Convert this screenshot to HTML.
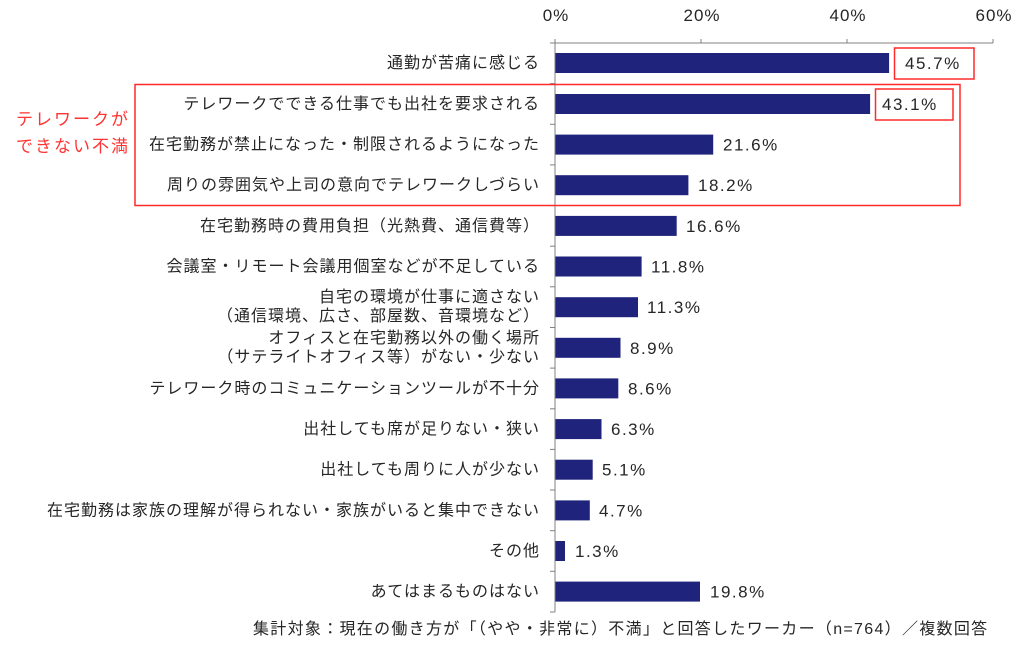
<!DOCTYPE html>
<html><head><meta charset="utf-8"><style>
html,body{margin:0;padding:0;background:#fff;}
svg{display:block;}
text{font-family:"Liberation Sans","Noto Sans CJK JP",sans-serif;fill:#262626;}
</style></head><body>
<svg width="1024" height="648" viewBox="0 0 1024 648" xmlns="http://www.w3.org/2000/svg">
<g font-size="17" text-anchor="middle" letter-spacing="1">
<text x="556" y="21">0%</text><text x="702" y="21">20%</text><text x="848" y="21">40%</text><text x="994" y="21">60%</text>
</g>
<g stroke="#808080" stroke-width="1" fill="none">
<line x1="555" y1="43" x2="993" y2="43"/>
<line x1="555" y1="39" x2="555" y2="43"/><line x1="701" y1="39" x2="701" y2="43"/><line x1="847" y1="39" x2="847" y2="43"/><line x1="993" y1="39" x2="993" y2="43"/>
<line x1="555" y1="43" x2="555" y2="612"/>
<line x1="550" y1="43" x2="555" y2="43"/><line x1="550" y1="83.6" x2="555" y2="83.6"/><line x1="550" y1="124.3" x2="555" y2="124.3"/><line x1="550" y1="164.9" x2="555" y2="164.9"/><line x1="550" y1="205.6" x2="555" y2="205.6"/><line x1="550" y1="246.2" x2="555" y2="246.2"/><line x1="550" y1="286.8" x2="555" y2="286.8"/><line x1="550" y1="327.5" x2="555" y2="327.5"/><line x1="550" y1="368.1" x2="555" y2="368.1"/><line x1="550" y1="408.8" x2="555" y2="408.8"/><line x1="550" y1="449.4" x2="555" y2="449.4"/><line x1="550" y1="490" x2="555" y2="490"/><line x1="550" y1="530.7" x2="555" y2="530.7"/><line x1="550" y1="571.3" x2="555" y2="571.3"/><line x1="550" y1="612" x2="555" y2="612"/>
</g>
<g fill="#1f237b">
<rect x="555.5" y="53" width="333.6" height="20"/>
<rect x="555.5" y="94" width="314.6" height="20"/>
<rect x="555.5" y="134.6" width="157.7" height="20"/>
<rect x="555.5" y="175.2" width="132.9" height="20"/>
<rect x="555.5" y="215.9" width="121.2" height="20"/>
<rect x="555.5" y="256.5" width="86.1" height="20"/>
<rect x="555.5" y="297.2" width="82.5" height="20"/>
<rect x="555.5" y="337.8" width="65" height="20"/>
<rect x="555.5" y="378.4" width="62.8" height="20"/>
<rect x="555.5" y="419.1" width="46" height="20"/>
<rect x="555.5" y="459.7" width="37.2" height="20"/>
<rect x="555.5" y="500.4" width="34.3" height="20"/>
<rect x="555.5" y="541" width="9.5" height="20"/>
<rect x="555.5" y="581.6" width="144.5" height="20"/>
</g>
<g font-size="17" letter-spacing="1.5">
<text x="905" y="69">45.7%</text>
<text x="882" y="110">43.1%</text>
<text x="723" y="150.5">21.6%</text>
<text x="698" y="191">18.2%</text>
<text x="686" y="232">16.6%</text>
<text x="651" y="272.5">11.8%</text>
<text x="647" y="313">11.3%</text>
<text x="630" y="354">8.9%</text>
<text x="628" y="394.5">8.6%</text>
<text x="611" y="435">6.3%</text>
<text x="602" y="475.5">5.1%</text>
<text x="599" y="516.5">4.7%</text>
<text x="575" y="557">1.3%</text>
<text x="710" y="597.5">19.8%</text>
</g>
<g font-size="16" text-anchor="end" letter-spacing="1">
<text x="540" y="68">通勤が苦痛に感じる</text>
<text x="540" y="109">テレワークでできる仕事でも出社を要求される</text>
<text x="540" y="149.5">在宅勤務が禁止になった・制限されるようになった</text>
<text x="540" y="190">周りの雰囲気や上司の意向でテレワークしづらい</text>
<text x="540" y="231">在宅勤務時の費用負担（光熱費、通信費等）</text>
<text x="540" y="271.5">会議室・リモート会議用個室などが不足している</text>
<text x="540" y="302">自宅の環境が仕事に適さない</text>
<text x="540" y="321">（通信環境、広さ、部屋数、音環境など）</text>
<text x="540" y="343">オフィスと在宅勤務以外の働く場所</text>
<text x="540" y="362">（サテライトオフィス等）がない・少ない</text>
<text x="540" y="393.5">テレワーク時のコミュニケーションツールが不十分</text>
<text x="540" y="434">出社しても席が足りない・狭い</text>
<text x="540" y="474.5">出社しても周りに人が少ない</text>
<text x="540" y="515.5">在宅勤務は家族の理解が得られない・家族がいると集中できない</text>
<text x="540" y="556">その他</text>
<text x="540" y="596.5">あてはまるものはない</text>
</g>
<g font-size="17" letter-spacing="2">
<text x="16" y="125" style="fill:#ff3333">テレワークが</text>
<text x="16" y="152" style="fill:#ff3333">できない不満</text>
</g>
<g fill="none" stroke="#ff2a2a" stroke-width="1.5">
<rect x="135" y="84.5" width="825" height="121"/>
<rect x="894.5" y="48" width="79.5" height="31"/>
<rect x="875.5" y="89" width="77.5" height="31"/>
</g>
<text x="253" y="634" font-size="16" letter-spacing="1.3">集計対象：現在の働き方が「（やや・非常に）不満」と回答したワーカー（n=764）／複数回答</text>
</svg>
</body></html>
